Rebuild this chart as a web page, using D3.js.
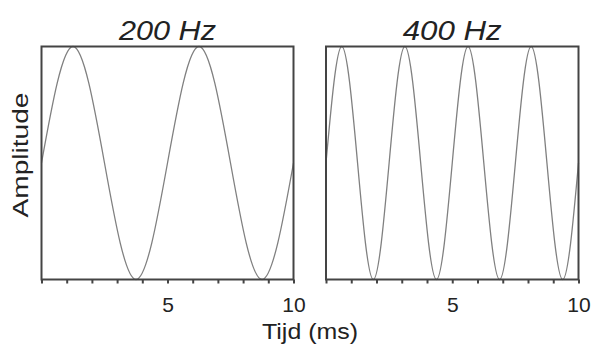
<!DOCTYPE html>
<html>
<head>
<meta charset="utf-8">
<script src="https://cdn.jsdelivr.net/npm/d3@7"></script>
<style>
  body { margin: 0; background: #fff; }
  text { font-family: "Liberation Sans", Arial, sans-serif; fill: #222; }
</style>
</head>
<body>
<div id="chart"></div>
<script>
// tijdstippen (ms) en amplitudes
const time200 = [0, 1.25, 2.5, 3.75, 5, 6.25, 7.5, 8.75, 10]
const amp200 = [0, 1, 0, -1, 0, 1, 0, -1, 0]
const time400 = [0, 0.625, 1.25, 1.875, 2.5, 3.125, 3.75, 4.375, 5,
  5.625, 6.25, 6.875, 7.5, 8.125, 8.75, 9.375, 10]
const amp400 = [0, 1, 0, -1, 0, 1, 0, -1, 0, 1, 0, -1, 0, 1, 0, -1, 0]
const panelTitles = ['200 Hz', '400 Hz']
const xTicks = [0, 1, 2, 3, 4, 5, 6, 7, 8, 9, 10]
const xLabels = [5, 10]

const W = 598, H = 347
const plotTop = 46.5, plotBottom = 279.5
const panels = [
  { x0: 41.5, x1: 293.5, t: time200, a: amp200, title: panelTitles[0], tw: 97 },
  { x0: 326, x1: 578.5, t: time400, a: amp400, title: panelTitles[1], tw: 99 }
]

const svg = d3.select('#chart').append('svg').attr('width', W).attr('height', H)

const y = d3.scaleLinear().domain([-1, 1]).range([plotBottom, plotTop])

panels.forEach(p => {
  const x = d3.scaleLinear().domain([0, 10]).range([p.x0, p.x1])
  const g = svg.append('g')

  const pts = p.t.map((t, i) => [t, p.a[i]])
  const line = d3.line().x(d => x(d[0])).y(d => y(d[1])).curve(d3.curveNatural)
  g.append('path').datum(pts)
    .attr('d', line)
    .attr('fill', 'none')
    .attr('stroke', '#808080')
    .attr('stroke-width', 1.3)

  g.append('rect')
    .attr('x', p.x0).attr('y', plotTop)
    .attr('width', p.x1 - p.x0).attr('height', plotBottom - plotTop)
    .attr('fill', 'none').attr('stroke', '#444').attr('stroke-width', 2)

  const axis = d3.axisBottom(x)
    .tickValues(xTicks)
    .tickSize(4)
    .tickSizeOuter(0)
    .tickFormat(d => xLabels.includes(d) ? d : '')
  const ax = g.append('g').attr('transform', `translate(0,${plotBottom})`).call(axis)
  ax.select('.domain').remove()
  ax.selectAll('.tick line').attr('stroke', '#444').attr('stroke-width', 2)
  ax.selectAll('.tick text')
    .attr('y', 18)
    .attr('dy', '0.71em')
    .style('font-size', '21px')
    .style('font-family', '"Liberation Sans", Arial, sans-serif')
    .attr('fill', '#222')

  g.append('text')
    .attr('x', (p.x0 + p.x1) / 2)
    .attr('y', 40)
    .attr('text-anchor', 'middle')
    .attr('font-style', 'italic')
    .attr('font-size', 27)
    .attr('textLength', p.tw)
    .attr('lengthAdjust', 'spacingAndGlyphs')
    .text(p.title)
})

svg.append('text')
  .attr('x', 310).attr('y', 339)
  .attr('text-anchor', 'middle')
  .attr('font-size', 22)
  .attr('textLength', 96)
  .attr('lengthAdjust', 'spacingAndGlyphs')
  .text('Tijd (ms)')

svg.append('text')
  .attr('transform', 'translate(28,155) rotate(-90)')
  .attr('text-anchor', 'middle')
  .attr('font-size', 22)
  .attr('textLength', 125)
  .attr('lengthAdjust', 'spacingAndGlyphs')
  .text('Amplitude')
</script>
</body>
</html>
